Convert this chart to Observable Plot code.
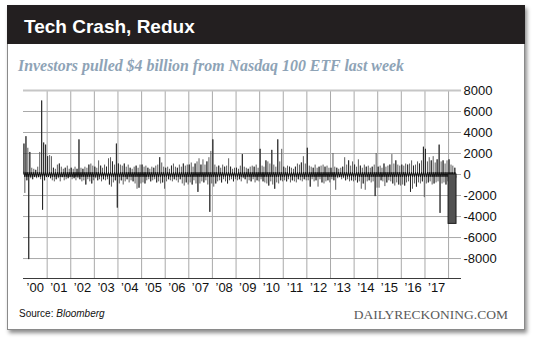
<!DOCTYPE html>
<html><head><meta charset="utf-8">
<script src="https://cdn.jsdelivr.net/npm/d3@7"></script>
<script src="https://cdn.jsdelivr.net/npm/@observablehq/plot@0.6"></script>
<style>
html,body{margin:0;padding:0;background:#fff;width:540px;height:347px;overflow:hidden;}
#card{position:absolute;left:7px;top:5px;width:516px;height:323px;border:1px solid #8a8a8a;box-shadow:2px 3px 4px rgba(0,0,0,0.45);background:#fff;}
#head{position:absolute;left:-1px;top:-1px;width:518px;height:39px;background:#231f20;}
.t{position:absolute;white-space:nowrap;margin:0;}
#title{left:24px;top:16.5px;font:bold 19px/19px "Liberation Sans",Arial,sans-serif;color:#fff;}
#sub{left:18px;top:57.8px;font:italic bold 15.9px/15.9px "Liberation Serif","Times New Roman",serif;color:#8ea3b6;}
#src{left:19px;top:308.5px;font:10px/10px "Liberation Sans",Arial,sans-serif;color:#111;}
#brand{right:32px;top:307.7px;font:13.5px/13.5px "Liberation Serif","Times New Roman",serif;color:#5a5a5a;}
#chart{position:absolute;left:0;top:80px;}
</style></head>
<body>
<div id="card"><div id="head"></div></div>
<div class="t" id="title">Tech Crash, Redux</div>
<div class="t" id="sub">Investors pulled $4 billion from Nasdaq 100 ETF last week</div>
<div class="t" id="src">Source: <i>Bloomberg</i></div>
<div class="t" id="brand">DAILYRECKONING.COM</div>
<div id="chart"></div>
<script>
// Monthly peak weekly inflows / outflows ($ millions), Jan 2000 onward
const inflowPeaks = [
  2900,3600,2500,2100,600,500,400,700,2100,7000,3000,2800,   // 2000
  1700,1800,1700,600,500,900,1000,700,500,600,800,500,       // 2001
  600,500,700,500,3300,600,500,700,600,900,1000,800,         // 2002
  700,600,1300,800,600,900,700,1500,1600,1200,900,2900,      // 2003
  1000,900,800,1000,700,900,600,500,700,800,600,900,         // 2004
  900,700,800,600,500,700,600,800,900,1600,1100,700,         // 2005
  600,700,500,800,1000,700,600,900,700,1000,800,900,         // 2006
  900,1100,700,1000,1200,1500,900,1400,900,1200,1600,2200,   // 2007
  3300,900,700,800,600,900,700,800,1500,700,500,600,         // 2008
  600,500,800,1900,700,600,500,700,800,700,900,600,          // 2009
  2400,800,700,1300,1200,1000,2300,900,700,3300,1200,2400,   // 2010
  700,600,800,700,600,500,700,1000,900,1100,1700,1000,       // 2011
  2500,800,700,600,900,600,700,800,900,700,800,600,          // 2012
  600,2000,700,600,500,600,700,1600,900,1300,800,1200,       // 2013
  900,700,1400,800,600,900,700,800,600,700,900,2000,         // 2014
  700,800,600,1000,700,800,900,1900,1000,1300,900,800,       // 2015
  900,800,1000,900,1000,1300,800,900,1200,1000,1300,2600,    // 2016
  2400,1200,1600,1300,1700,1100,1400,2800,1200,1300,1000,1300, // 2017
  1400,900,800,600                                           // 2018
];
const outflowPeaks = [
  -1800,-600,-8100,-400,-500,-300,-400,-300,-500,-3400,-600,-300,
  -300,-400,-600,-700,-500,-400,-700,-300,-600,-500,-400,-300,
  -500,-400,-600,-400,-500,-700,-600,-1000,-500,-700,-900,-600,
  -400,-600,-500,-700,-500,-600,-500,-1000,-1200,-800,-600,-3200,
  -900,-600,-1000,-700,-500,-800,-600,-700,-900,-1400,-1300,-900,
  -800,-900,-600,-500,-700,-600,-500,-800,-700,-900,-800,-1400,
  -700,-500,-600,-700,-500,-600,-800,-500,-900,-1100,-800,-1000,
  -800,-1000,-600,-900,-1700,-900,-700,-800,-600,-1000,-3600,-900,
  -1200,-900,-700,-600,-800,-500,-700,-900,-600,-500,-700,-500,
  -600,-500,-700,-400,-500,-900,-600,-700,-500,-800,-600,-700,
  -500,-700,-800,-900,-1100,-700,-1000,-1400,-800,-900,-600,-700,
  -600,-700,-500,-800,-600,-700,-800,-500,-600,-700,-500,-600,
  -600,-1200,-500,-700,-600,-1200,-500,-800,-900,-700,-600,-800,
  -500,-600,-1500,-400,-300,-500,-400,-600,-500,-700,-600,-700,
  -600,-800,-700,-1400,-900,-1500,-700,-600,-800,-700,-2100,-1300,
  -1300,-600,-700,-1150,-800,-600,-700,-900,-1100,-800,-1000,-1100,
  -1000,-1100,-800,-700,-1700,-1400,-900,-1200,-800,-900,-700,-2200,
  -900,-800,-700,-1000,-900,-800,-700,-3700,-900,-800,-1000,-700,
  -600,-700,-500,-400
];
const firstYear = 2000;
const lastWeekStart = "2018-01-01";
const lastWeekEnd = "2018-05-04";
const lastWeekFlow = -4700;
const yTicks = [-8000,-6000,-4000,-2000,0,2000,4000,6000,8000];
const yDomain = [-9900, 8000];
const labelYears = d3.range(2000, 2018);
const gridYears = d3.range(2001, 2019);
const xEnd = "2018-07-20";
const coreBand = 220; // dark core of the wiggle around zero

const inflow = inflowPeaks.map((v, i) => ({date: new Date(Date.UTC(firstYear, i, 8)), v}));
const outflow = outflowPeaks.map((v, i) => ({date: new Date(Date.UTC(firstYear, i, 22)), v}));
const flows = inflow.concat(outflow).sort((a, b) => a.date - b.date);
const last = [{x1: new Date(lastWeekStart), x2: new Date(lastWeekEnd), v: lastWeekFlow}];

const chart = Plot.plot({
  width: 540, height: 220,
  marginTop: 10, marginBottom: 22, marginLeft: 23, marginRight: 79,
  style: {fontFamily: "'Liberation Sans', Arial, sans-serif", fontSize: "13px", color: "#111", background: "transparent"},
  x: {type: "utc", domain: [new Date(Date.UTC(firstYear,0,1)), new Date(xEnd)],
      ticks: labelYears.map(y => new Date(Date.UTC(y, 6, 1))),
      tickFormat: d => "\u2019" + String(d.getUTCFullYear()).slice(2),
      tickSize: 0, tickPadding: 4, label: null},
  y: {domain: yDomain, ticks: yTicks, tickFormat: d => String(d), axis: "right",
      tickSize: 0, tickPadding: 2, label: null},
  marks: [
    Plot.ruleY(yTicks.slice(0, -1), {stroke: "#a9a9a9", strokeWidth: 1}),
    Plot.ruleX(gridYears.map(y => new Date(Date.UTC(y, 0, 1))), {stroke: "#a9a9a9", strokeWidth: 1}),
    Plot.ruleY([yDomain[1]], {stroke: "#c6c6c6", strokeWidth: 2}),
    Plot.ruleX(flows, {x: "date", y1: 0, y2: "v", stroke: "#5c5c5c", strokeWidth: 1}),
    Plot.ruleX(flows.filter((d, i) => i % 3 === 0 || Math.abs(d.v) > 2500), {x: "date", y1: 0, y2: "v", stroke: "#1e1e1e", strokeWidth: 0.9}),
    Plot.lineY(flows, {x: "date", y: d => Math.max(-coreBand, Math.min(coreBand, d.v)), stroke: "#111", strokeWidth: 1}),
    Plot.rectY(last, {x1: "x1", x2: "x2", y1: 0, y2: "v", fill: "#525252", stroke: "#1a1a1a", strokeWidth: 1}),
    Plot.ruleY([yDomain[0]], {stroke: "#3a3a3a", strokeWidth: 1})
  ]
});
document.getElementById("chart").appendChild(chart);
</script>
</body></html>
